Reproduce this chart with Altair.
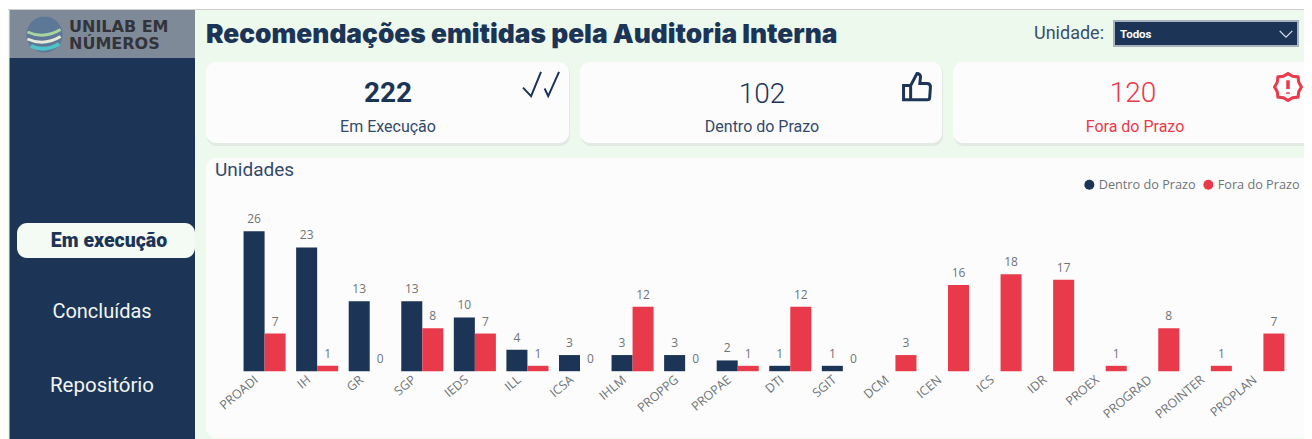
import altair as alt
import pandas as pd

unidades = ["PROADI","IH","GR","SGP","IEDS","ILL","ICSA","IHLM","PROPPG","PROPAE","DTI","SGIT","DCM","ICEN","ICS","IDR","PROEX","PROGRAD","PROINTER","PROPLAN"]
dentro = [26,23,13,13,10,4,3,3,3,2,1,1,None,None,None,None,None,None,None,None]
fora = [7,1,0,8,7,1,0,12,0,1,12,0,3,16,18,17,1,8,1,7]
series = ["Dentro do Prazo","Fora do Prazo"]

NAVY = "#1C3557"
RED = "#E83A4A"
MINT = "#EEF9EE"
CARD = "#FCFCFC"
GRAY = "#6F7478"
UI = "Roboto"

one = alt.Data(values=[{}])
W, H = 1296, 431

def px(v): return alt.value(v - 8)
def py(v): return alt.value(v - 8)

def rect(x, x2, y, y2, color, radius=0, opacity=1, **kw):
    return alt.Chart(one).mark_rect(color=color, cornerRadius=radius, opacity=opacity, **kw).encode(
        x=px(x), x2=px(x2), y=py(y), y2=py(y2))

def label(txt, x, y, size, color, weight="normal", align="center", font=UI):
    return alt.Chart(one).mark_text(text=txt, fontSize=size, color=color, fontWeight=weight,
                                    align=align, baseline="middle", font=font).encode(x=px(x), y=py(y))

def icon(path, x, y, size, color, width=2.5, fill=None):
    kw = {"filled": True, "fill": fill} if fill else {"filled": False}
    return alt.Chart(one).mark_point(shape=path, size=size, stroke=color, strokeWidth=width,
                                     opacity=1, **kw).encode(x=px(x), y=py(y))

rows = []
for u, d, f in zip(unidades, dentro, fora):
    if d is not None:
        rows.append({"u": u, "s": series[0], "v": d})
    rows.append({"u": u, "s": series[1], "v": f})
df = pd.DataFrame(rows)

xs = alt.X("u:N", sort=unidades, title=None,
           scale=alt.Scale(range=[230.3, 1281.7], paddingInner=0.2, paddingOuter=0.1),
           axis=alt.Axis(labelAngle=-40, domain=False, ticks=False, labelFont="Open Sans", labelFontSize=12.5,
                         labelColor=GRAY, labelPadding=6, labelOffset=-12, offset=-72, grid=False,
                         labelOverlap=False, zindex=1))
xo = alt.XOffset("s:N", sort=series, scale=alt.Scale(paddingInner=0, paddingOuter=0))
ys = alt.Y("v:Q", axis=None, scale=alt.Scale(domain=[0, 26], range=[363.2, 223.3], nice=False))
bars = alt.Chart(df).mark_bar().encode(
    x=xs, xOffset=xo, y=ys,
    color=alt.Color("s:N", sort=series, scale=alt.Scale(domain=series, range=[NAVY, RED]),
                    legend=alt.Legend(orient="none", legendX=1075, legendY=170, direction="horizontal",
                                      title=None, symbolType="circle", symbolSize=100, symbolStrokeWidth=0,
                                      labelFont="Open Sans", labelFontSize=12.7, labelColor=GRAY,
                                      columnPadding=6, labelOffset=3)))
vals = alt.Chart(df).mark_text(dy=-12, fontSize=12, font="Open Sans", color=GRAY, baseline="middle").encode(
    x=xs, xOffset=xo, y=ys, text=alt.Text("v:Q"))

check = "M-1,0.2 L-0.55,0.67 L0,-0.67 M0.2,0.25 L0.4,0.67 L1,-0.67"
thumb = ("M-0.45,-0.1 L-0.95,-0.1 L-0.95,0.9 L0.75,0.9 Q0.9,0.9 0.9,0.7 L0.95,0 Q0.95,-0.25 0.7,-0.25 "
         "L0.2,-0.25 L0.25,-0.75 Q0.2,-0.95 0,-0.95 L-0.45,-0.1 L-0.45,0.9")
badge = ("M0,-1 L0.35,-0.8 L0.75,-0.75 L0.8,-0.35 L1,0 L0.8,0.35 L0.75,0.75 L0.35,0.8 L0,1 L-0.35,0.8 "
         "L-0.75,0.75 L-0.8,0.35 L-1,0 L-0.8,-0.35 L-0.75,-0.75 L-0.35,-0.8 Z")
bang = "M0,-0.5 L0,0.15 M0,0.4 L0,0.5"
chevron = "M-1,-0.5 L0,0.5 L1,-0.5"
band = "M-1,0 Q0,0.45 1,-0.15"

layers = [
    rect(8, 1312, 10, 439, MINT),
    rect(8, 1312, 9, 10, "#CFCFCF"),
    rect(9.5, 195, 58, 439, NAVY),
    rect(9.5, 195, 10, 58, "#7F8A98"),
    # logo
    alt.Chart(one).mark_point(shape="circle", filled=True, size=1300, color="#5C7896", opacity=1).encode(x=px(44.5), y=py(34.5)),
    icon(band, 44, 32, 1100, "#A9D4A0", 3),
    icon(band, 44, 39, 1100, "#E6E8D8", 3),
    icon(band, 45, 46, 800, "#4FC3C7", 4),
    label("UNILAB EM", 69, 27, 16, "#33343A", "bold", "left", "DejaVu Sans"),
    label("NÚMEROS", 69, 43.5, 16, "#33343A", "bold", "left", "DejaVu Sans"),
    # sidebar
    rect(17, 195, 223, 258, "#F4FBF4", 10),
    label("Em execução", 109, 240.5, 19.5, NAVY, 900),
    label("Concluídas", 102, 312, 20, "#F2F5F2"),
    label("Repositório", 102, 386, 20.5, "#F2F5F2"),
    # header
    label("Recomendações emitidas pela Auditoria Interna", 206, 35, 26.3, NAVY, 900, "left", "Inter"),
    label("Unidade:", 1104, 34, 18, "#3A4E6B", "normal", "right"),
    rect(1113, 1299, 20, 47, "#A9B2BF"),
    rect(1115, 1297, 22, 45, NAVY),
    label("Todos", 1120, 35, 11.5, "#FFFFFF", "bold", "left"),
    icon(chevron, 1286, 34, 160, "#DDE3EA", 1.2),
]
# cards
for x0, x1 in [(206, 569), (580, 942), (953, 1320)]:
    layers.append(rect(x0 + 1, x1 + 1, 63, 146, "#DDE5DE", 10, 0.8))
    layers.append(rect(x0, x1, 62, 143, CARD, 10))
layers += [
    label("222", 388, 94, 28, NAVY, "bold"),
    label("Em Execução", 388, 127, 16, "#33496A"),
    label("102", 762, 95, 28, NAVY, 300),
    label("Dentro do Prazo", 762, 127, 16, "#33496A"),
    label("120", 1133, 94, 28, RED, 300),
    label("Fora do Prazo", 1135, 127, 16, RED),
    icon(check, 541, 84, 1300, NAVY, 2),
    icon(thumb, 917, 87, 800, NAVY, 3),
    icon(badge, 1288, 87, 720, RED, 3),
    icon(bang, 1288, 87, 720, RED, 3.5),
    rect(206, 1320, 158, 438, CARD, 10),
    label("Unidades", 215, 170, 19, "#33496A", "normal", "left"),
    bars,
    vals,
]

chart = alt.layer(*layers).resolve_scale(x="shared").properties(
    width=W, height=H, padding=0, autosize=alt.AutoSizeParams(type="none")
).configure_view(stroke=None)

chart.save("out.html", embed_options={"renderer": "svg", "actions": False})
